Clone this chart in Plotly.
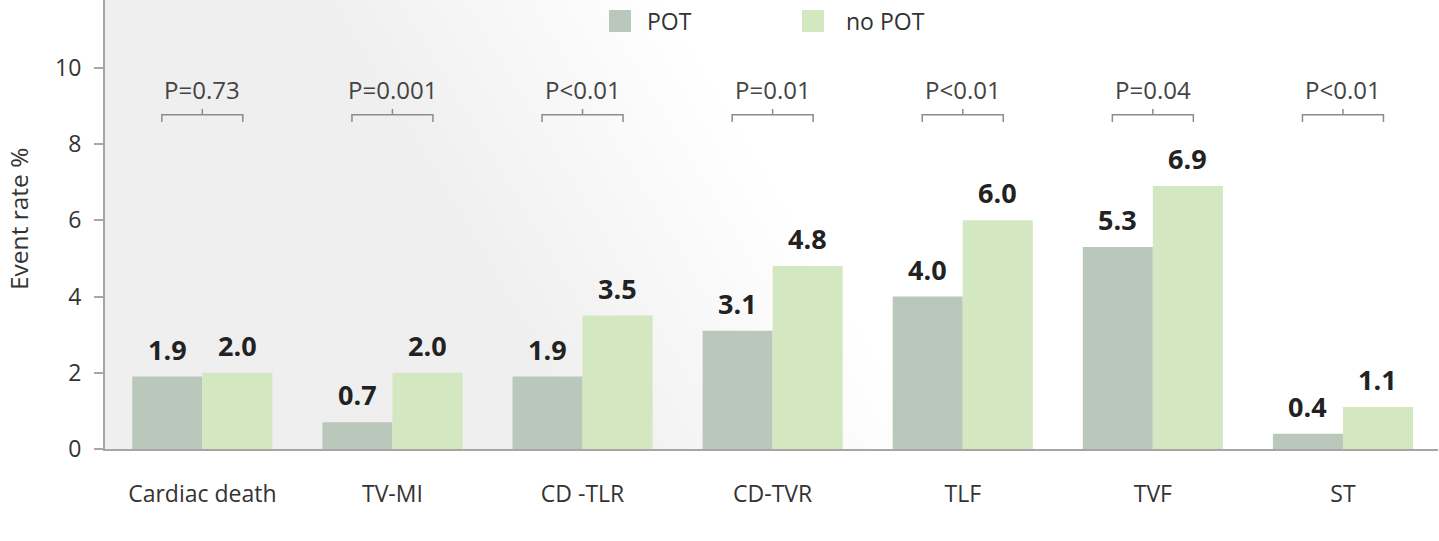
import base64
import plotly.graph_objects as go

# ---------------- data ----------------
categories = ["Cardiac death", "TV-MI", "CD -TLR", "CD-TVR", "TLF", "TVF", "ST"]
pot_values = [1.9, 0.7, 1.9, 3.1, 4.0, 5.3, 0.4]
no_pot_values = [2.0, 2.0, 3.5, 4.8, 6.0, 6.9, 1.1]
p_values = ["P=0.73", "P=0.001", "P<0.01", "P=0.01", "P<0.01", "P=0.04", "P<0.01"]
series_names = ["POT", "no POT"]
y_ticks = [0, 2, 4, 6, 8, 10]

# ---------------- styles ----------------
W, H = 1439, 541
ML, MR, MT, MB = 105, 1, 0, 92
PW, PH = W - ML - MR, H - MT - MB
Y_MAX = 11.78
X_LEFT_PAD = 0.012
POT_COLOR = "#b9c8bb"
NOPOT_COLOR = "#d3e8c1"
AXIS_COLOR = "#a6a6a6"
FONT = "Open Sans"
TEXT_COLOR = "#333333"
BRACKET_COLOR = "#8c8c8c"
BRACKET_Y, BRACKET_END, BRACKET_TICK, P_TEXT_Y = 8.77, 8.58, 8.92, 9.42
BRACKET_HALF = 0.213
BARGAP = 0.263

# gradient background (gray on left/bottom -> white toward right/top)
svg = f'''<svg xmlns="http://www.w3.org/2000/svg" width="{PW}" height="{PH}" viewBox="0 0 {PW} {PH}" preserveAspectRatio="none">
<defs><linearGradient id="g" gradientUnits="userSpaceOnUse" x1="210" y1="0" x2="467" y2="-154">
<stop offset="0" stop-color="#efefef"/><stop offset="1" stop-color="#ffffff"/></linearGradient></defs>
<rect x="0" y="0" width="{PW}" height="{PH}" fill="url(#g)"/></svg>'''
svg_uri = "data:image/svg+xml;base64," + base64.b64encode(svg.encode()).decode()

fig = go.Figure()
fig.add_trace(go.Bar(name=series_names[0], x=categories, y=pot_values,
                     marker=dict(color=POT_COLOR, line=dict(width=0)), showlegend=False,
                     hoverinfo="x+y"))
fig.add_trace(go.Bar(name=series_names[1], x=categories, y=no_pot_values,
                     marker=dict(color=NOPOT_COLOR, line=dict(width=0)), showlegend=False,
                     hoverinfo="x+y"))

annotations = []
shapes = []
x_range = [-0.5 - X_LEFT_PAD, len(categories) - 0.5]
cat_px = PW / (x_range[1] - x_range[0])
bar_px = cat_px * (1 - BARGAP) / 2
for i, cat in enumerate(categories):
    for vals, sign in ((pot_values, -1), (no_pot_values, 1)):
        annotations.append(dict(x=cat, y=vals[i], xref="x", yref="y", text=f"{vals[i]:.1f}",
                                showarrow=False, yanchor="bottom", xanchor="center",
                                xshift=sign * bar_px / 2, yshift=7,
                                font=dict(family=FONT, size=27, color="#222222", weight="bold")))
    annotations.append(dict(x=i, y=P_TEXT_Y, xref="x", yref="y", text=p_values[i], showarrow=False,
                            yanchor="middle", xanchor="center",
                            font=dict(family=FONT, size=24, color="#444444")))
    path = (f"M {i - BRACKET_HALF},{BRACKET_END} L {i - BRACKET_HALF},{BRACKET_Y} "
            f"L {i + BRACKET_HALF},{BRACKET_Y} L {i + BRACKET_HALF},{BRACKET_END} "
            f"M {i},{BRACKET_Y} L {i},{BRACKET_TICK}")
    shapes.append(dict(type="path", path=path, xref="x", yref="y",
                       line=dict(color=BRACKET_COLOR, width=1.5)))

# manual legend (large square swatches)
def px_x(px):
    return (px - ML) / PW

def px_y(py):
    return (PH + MT - py) / PH

legend_items = [(series_names[0], POT_COLOR, 609, 645), (series_names[1], NOPOT_COLOR, 802, 844)]
for name, color, sx, tx in legend_items:
    shapes.append(dict(type="rect", xref="paper", yref="paper",
                       x0=px_x(sx), x1=px_x(sx + 22), y0=px_y(32), y1=px_y(10),
                       fillcolor=color, line=dict(width=0)))
    annotations.append(dict(x=px_x(tx), y=px_y(21), xref="paper", yref="paper", text=name,
                            showarrow=False, xanchor="left", yanchor="middle",
                            font=dict(family=FONT, size=23, color=TEXT_COLOR)))

# y-axis title
annotations.append(dict(x=0, y=px_y(219), xref="paper", yref="paper", text="Event rate %",
                        textangle=-90, showarrow=False, xanchor="center", yanchor="middle",
                        xshift=-(ML - 18), font=dict(family=FONT, size=24.5, color=TEXT_COLOR)))

fig.update_layout(
    width=W, height=H,
    margin=dict(l=ML, r=MR, t=MT, b=MB, pad=0),
    barmode="group", bargap=BARGAP, bargroupgap=0,
    paper_bgcolor="white", plot_bgcolor="rgba(0,0,0,0)",
    font=dict(family=FONT, size=23, color=TEXT_COLOR),
    showlegend=False,
    annotations=annotations, shapes=shapes,
    images=[dict(source=svg_uri, xref="paper", yref="paper", x=0, y=1, sizex=1, sizey=1,
                 sizing="stretch", xanchor="left", yanchor="top", layer="below")],
    xaxis=dict(type="category", range=x_range, showgrid=False,
               showline=True, linecolor=AXIS_COLOR, linewidth=2, ticks="",
               ticklabelstandoff=23, tickfont=dict(family=FONT, size=23, color=TEXT_COLOR),
               fixedrange=True),
    yaxis=dict(range=[0, Y_MAX], tickvals=y_ticks, showgrid=False, zeroline=False,
               showline=True, linecolor=AXIS_COLOR, linewidth=2, ticks="outside",
               ticklen=9, tickwidth=1.5, tickcolor=AXIS_COLOR, ticklabelstandoff=8,
               tickfont=dict(family=FONT, size=23, color=TEXT_COLOR), fixedrange=True),
)

fig.write_html("out.html", config={"displayModeBar": False},
               post_script="document.body.style.margin='0';")
